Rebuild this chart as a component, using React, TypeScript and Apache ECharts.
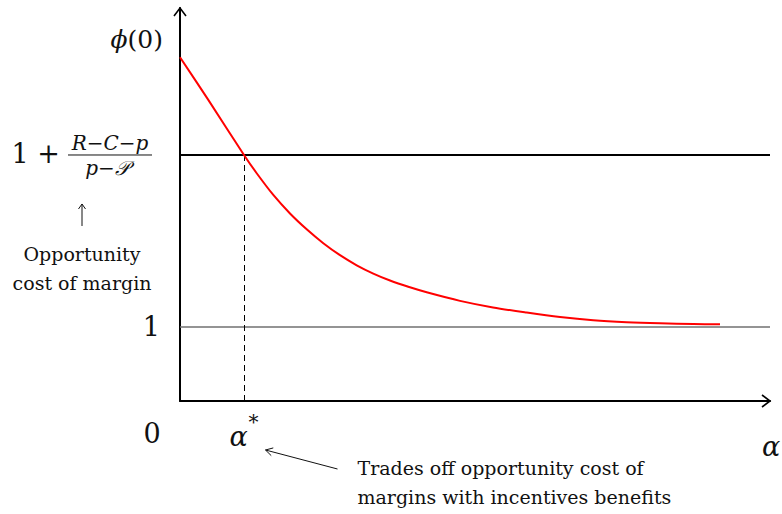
import React, { useEffect, useRef } from 'react';
import * as echarts from 'echarts';

// alpha (horizontal) and phi(0) (vertical) values
const alpha = [0, 0.283, 0.64, 0.767, 0.933, 1.1, 1.267, 1.433, 1.6, 1.767, 1.933, 2.1, 2.283, 2.467, 2.8, 3.13, 3.467, 3.8, 4.133, 4.467, 4.8, 5.133, 5.4];
const phi = [4.645, 4.068, 3.324, 3.077, 2.784, 2.534, 2.32, 2.132, 1.97, 1.834, 1.722, 1.628, 1.543, 1.469, 1.353, 1.264, 1.195, 1.135, 1.091, 1.065, 1.05, 1.041, 1.036];

const alphaStar = 0.645;
const threshold = 3.324;
const floorValue = 1;
const xMax = 5.9;
const yMax = 5.31;

const xAxisName = 'α';
const originLabel = '0';
const floorLabel = '1';
const annotationLines = ['Trades off opportunity cost of', 'margins with incentives benefits'];
const sideNoteLines = ['Opportunity', 'cost of margin'];

const SERIF = '"DejaVu Serif", "Liberation Serif", serif';

export default function App() {
  const ref = useRef<HTMLDivElement>(null);
  useEffect(() => {
    const chart = echarts.init(ref.current!, null, { renderer: 'svg' });
    const axisCommon = {
      type: 'value',
      axisLine: { show: true, onZero: false, lineStyle: { color: '#000', width: 2 } },
      axisTick: { show: false },
      axisLabel: { show: false },
      splitLine: { show: false },
    };
    chart.setOption({
      animation: false,
      backgroundColor: '#fff',
      grid: { left: 180, right: 12, top: 8, bottom: 113 },
      xAxis: { ...axisCommon, min: 0, max: xMax },
      yAxis: { ...axisCommon, min: 0, max: yMax },
      series: [
        {
          type: 'line', symbol: 'none', silent: true,
          data: [[0, floorValue], [xMax, floorValue]],
          lineStyle: { color: '#707070', width: 1.6 },
        },
        {
          type: 'line', symbol: 'none', silent: true,
          data: [[0, threshold], [xMax, threshold]],
          lineStyle: { color: '#000', width: 2 },
        },
        {
          type: 'line', symbol: 'none', silent: true,
          data: [[alphaStar, 0], [alphaStar, threshold]],
          lineStyle: { color: '#000', width: 1, type: [6, 4] },
        },
        {
          type: 'line', symbol: 'none', silent: true, smooth: 0.3,
          data: alpha.map((a, i) => [a, phi[i]]),
          lineStyle: { color: '#ff0000', width: 2, join: 'round' },
        },
      ],
    });

    const px = (p: number[]) => chart.convertToPixel({ gridIndex: 0 }, p) as number[];
    const O = px([0, 0]);
    const T = px([0, yMax]);
    const R = px([xMax, 0]);
    const A = px([alphaStar, 0]);
    const H = px([0, threshold]);
    const U = px([0, floorValue]);

    const txt = (x: number, y: number, text: string, size: number, align = 'left', rich?: any) => ({
      type: 'text', x, y, silent: true,
      style: { text, fill: '#111', fontSize: size, fontFamily: SERIF, align, verticalAlign: 'middle', rich },
    });
    const it = (size: number) => ({ i: { fontStyle: 'italic', fontSize: size, fontFamily: SERIF, fill: '#111' } });

    const headPts = (tip: number[], from: number[], len: number, spread: number) => {
      const dx = tip[0] - from[0], dy = tip[1] - from[1];
      const L = Math.hypot(dx, dy);
      const ux = dx / L, uy = dy / L;
      const bx = tip[0] - ux * len, by = tip[1] - uy * len;
      return [[bx - uy * spread, by + ux * spread], tip, [bx + uy * spread, by - ux * spread]];
    };

    const annHead = [A[0] + 21, A[1] + 49];
    const annTail = [A[0] + 93, A[1] + 68];
    const upTip = [82, H[1] + 49];
    const upTail = [82, H[1] + 71];

    const graphic: any[] = [
      { type: 'polyline', silent: true, shape: { points: headPts(T, [T[0], T[1] + 10], 8, 6) }, style: { stroke: '#000', lineWidth: 1.6, fill: 'none' } },
      { type: 'polyline', silent: true, shape: { points: headPts(R, [R[0] - 10, R[1]], 8, 6) }, style: { stroke: '#000', lineWidth: 1.6, fill: 'none' } },
      txt(O[0] - 17, T[1] + 31, '{i|ϕ}(0)', 25, 'right', it(25)),
      txt(O[0] - 120, H[1] - 1, '1 +', 27, 'right'),
      txt(O[0] - 70, H[1] - 12, '{i|R}−{i|C}−{i|p}', 20, 'center', it(20)),
      { type: 'line', silent: true, shape: { x1: O[0] - 112, y1: H[1], x2: O[0] - 28, y2: H[1] }, style: { stroke: '#111', lineWidth: 1 } },
      txt(O[0] - 73, H[1] + 13, '{i|p}−{i|𝒫}', 20, 'center', it(20)),
      txt(O[0] - 20, U[1], floorLabel, 27, 'right'),
      txt(O[0] - 28, O[1] + 32, originLabel, 27, 'center'),
      txt(A[0] - 6, O[1] + 35, '{i|α}', 27, 'center', it(27)),
      txt(A[0] + 4, O[1] + 21, '*', 20, 'left'),
      txt(R[0] - 8, O[1] + 45, `{i|${xAxisName}}`, 27, 'left', it(27)),
      { type: 'line', silent: true, shape: { x1: upTail[0], y1: upTail[1], x2: upTip[0], y2: upTip[1] }, style: { stroke: '#111', lineWidth: 1 } },
      { type: 'polyline', silent: true, shape: { points: headPts(upTip, upTail, 5, 3.5) }, style: { stroke: '#111', lineWidth: 1, fill: 'none' } },
      txt(82, H[1] + 99, sideNoteLines[0], 19, 'center'),
      txt(82, H[1] + 128, sideNoteLines[1], 19, 'center'),
      { type: 'line', silent: true, shape: { x1: annTail[0], y1: annTail[1], x2: annHead[0], y2: annHead[1] }, style: { stroke: '#111', lineWidth: 1 } },
      { type: 'polyline', silent: true, shape: { points: headPts(annHead, annTail, 7, 4) }, style: { stroke: '#111', lineWidth: 1, fill: 'none' } },
      txt(A[0] + 113, O[1] + 67, annotationLines[0], 19, 'left'),
      txt(A[0] + 113, O[1] + 96, annotationLines[1], 19, 'left'),
    ];
    chart.setOption({ graphic });
    return () => chart.dispose();
  }, []);
  return <div ref={ref} style={{ position: 'fixed', left: 0, top: 0, width: 782, height: 514, background: '#fff' }} />;
}
